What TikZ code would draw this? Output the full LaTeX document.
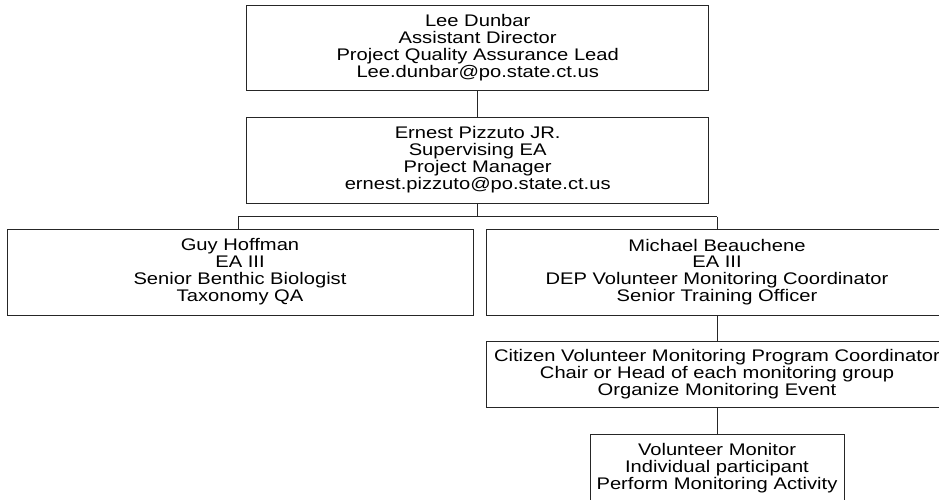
\documentclass[tikz,border=0pt]{standalone}
\usepackage{fontspec}
\setmainfont{Liberation Sans}[FakeStretch=1.2]
\begin{document}
\begin{tikzpicture}[x=1pt,y=-1pt,
  box/.style={draw=black!85, line width=1pt, align=center, inner sep=0pt,
    font=\fontsize{16.8}{16.9}\selectfont, text=black},
  link/.style={draw=black!85, line width=1pt}]
\useasboundingbox (0,0) rectangle (939,499);
\clip (0,0) rectangle (939,499);
\node[box, minimum width=462pt, minimum height=85pt] (lee) at (477.7,47.5)
  {Lee Dunbar\\Assistant Director\\Project Quality Assurance Lead\\Lee.dunbar@po.state.ct.us};
\node[box, minimum width=462pt, minimum height=86pt] (ernest) at (477.7,160)
  {Ernest Pizzuto JR.\\Supervising EA\\Project Manager\\ernest.pizzuto@po.state.ct.us};
\node[box, minimum width=466pt, minimum height=86pt] (guy) at (240,272)
  {Guy Hoffman\\EA III\\Senior Benthic Biologist\\Taxonomy QA};
\node[box, minimum width=462pt, minimum height=86pt] (michael) at (717,272)
  {Michael Beauchene\\EA III\\DEP Volunteer Monitoring Coordinator\\Senior Training Officer};
\node[box, minimum width=462pt, minimum height=66pt] (citizen) at (717,374)
  {Citizen Volunteer Monitoring Program Coordinator\\Chair or Head of each monitoring group\\Organize Monitoring Event};
\node[box, minimum width=254pt, minimum height=68pt] (vol) at (717,468)
  {Volunteer Monitor\\Individual participant\\Perform Monitoring Activity};
\coordinate (busL) at (238,216.7);
\coordinate (busR) at (717,216.7);
\draw[link] (lee.south) -- (ernest.north);
\draw[link] (ernest.south) -- (ernest.south |- busL);
\draw[link] (busL) -- (busR);
\draw[link] (busL) -- (busL |- guy.north);
\draw[link] (busR) -- (michael.north);
\draw[link] (michael.south) -- (citizen.north);
\draw[link] (citizen.south) -- (vol.north);
\end{tikzpicture}
\end{document}
